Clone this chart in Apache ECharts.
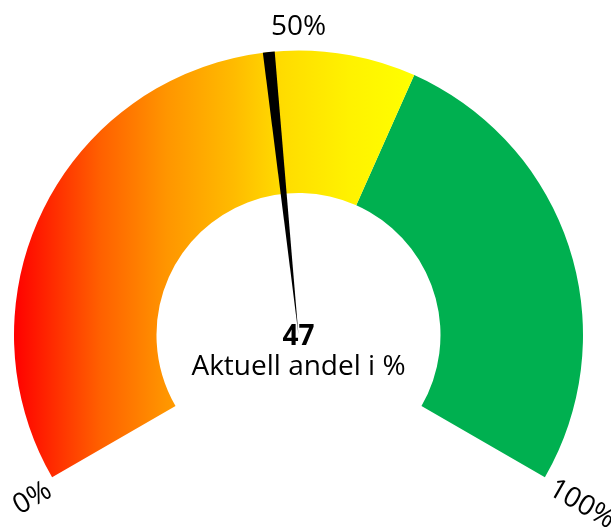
<!DOCTYPE html>
<html>
<head>
<meta charset="utf-8">
<script src="https://cdn.jsdelivr.net/npm/echarts@6/dist/echarts.min.js"></script>
<style>
  html, body { margin: 0; padding: 0; background: #fff; }
  #main { width: 611px; height: 527px; }
</style>
</head>
<body>
<div id="main"></div>
<script>
  // values
  var gaugeMin = 0
  var gaugeMax = 100
  var needleValue = 47
  var needleWidth = 1
  var valueName = 'Aktuell andel i %'
  var bandEnds = [60, 100]
  var tickValues = [0, 50, 100]
  var tickLabels = ['0%', '50%', '100%']

  var FONT = 'Open Sans'
  var center = [298.5, 335]
  var outerR = 284.5
  var bandWidth = 142.5

  // per-tick label placement (outside the arc)
  var tickStyle = [
    { distance: -27.5, rotate: 30, padTop: 17 },
    { distance: -37, rotate: 0, padTop: 0 },
    { distance: -45.5, rotate: -30, padTop: 10 }
  ]

  var warmGradient = {
    type: 'linear', x: 14, y: 0, x2: 414, y2: 0, global: true,
    colorStops: [
      { offset: 0, color: '#ff0000' },
      { offset: 0.215, color: '#ff6000' },
      { offset: 0.38, color: '#ff9500' },
      { offset: 0.55, color: '#ffbb00' },
      { offset: 0.67, color: '#ffdc00' },
      { offset: 0.84, color: '#fff200' },
      { offset: 1, color: '#ffff00' }
    ]
  }
  var bandColors = [warmGradient, '#00b050']
  var none = 'rgba(0,0,0,0)'

  var chart = echarts.init(document.getElementById('main'))

  var base = {
    type: 'gauge',
    center: center,
    radius: outerR,
    startAngle: 210,
    endAngle: -30,
    min: gaugeMin,
    max: gaugeMax,
    splitNumber: 2,
    splitLine: { show: false, length: 0, distance: 0 },
    axisTick: { show: false },
    anchor: { show: false },
    progress: { show: false }
  }

  var series = [
    Object.assign({}, base, {
      axisLine: {
        roundCap: false,
        lineStyle: {
          width: bandWidth,
          color: bandEnds.map(function (v, i) {
            return [(v - gaugeMin) / (gaugeMax - gaugeMin), bandColors[i]]
          })
        }
      },
      axisLabel: { show: false },
      pointer: { show: false },
      detail: {
        formatter: '{value}',
        fontFamily: FONT,
        fontWeight: 'bold',
        fontSize: 28,
        color: '#000',
        offsetCenter: [0, 2]
      },
      title: {
        fontFamily: FONT,
        fontSize: 28,
        color: '#000',
        offsetCenter: [0, 32]
      },
      data: [{ value: needleValue, name: valueName }]
    }),
    // needle: a thin pie slice, the rest of the circle left empty
    {
      type: 'pie',
      center: center,
      radius: [0, outerR],
      startAngle: 210,
      clockwise: true,
      silent: true,
      label: { show: false },
      labelLine: { show: false },
      emphasis: { disabled: true },
      itemStyle: { borderWidth: 0 },
      data: [
        { value: needleValue - gaugeMin, itemStyle: { color: none } },
        { value: needleWidth, itemStyle: { color: '#000' } },
        { value: gaugeMax - needleValue - needleWidth, itemStyle: { color: none } },
        { value: (gaugeMax - gaugeMin) / 2, itemStyle: { color: none } }
      ]
    }
  ]

  tickValues.forEach(function (t, i) {
    series.push(Object.assign({}, base, {
      axisLine: { show: false },
      pointer: { show: false },
      detail: { show: false },
      title: { show: false },
      axisLabel: {
        distance: tickStyle[i].distance,
        rotate: tickStyle[i].rotate,
        color: '#000',
        fontFamily: FONT,
        fontSize: 28,
        formatter: function (v) {
          return Number(v) === t ? '{s|' + tickLabels[i] + '}' : ''
        },
        rich: {
          s: {
            color: '#000',
            fontFamily: FONT,
            fontSize: 28,
            padding: [tickStyle[i].padTop, 0, 0, 0]
          }
        }
      },
      data: []
    }))
  })

  chart.setOption({
    backgroundColor: '#fff',
    animation: false,
    series: series
  })
</script>
</body>
</html>
